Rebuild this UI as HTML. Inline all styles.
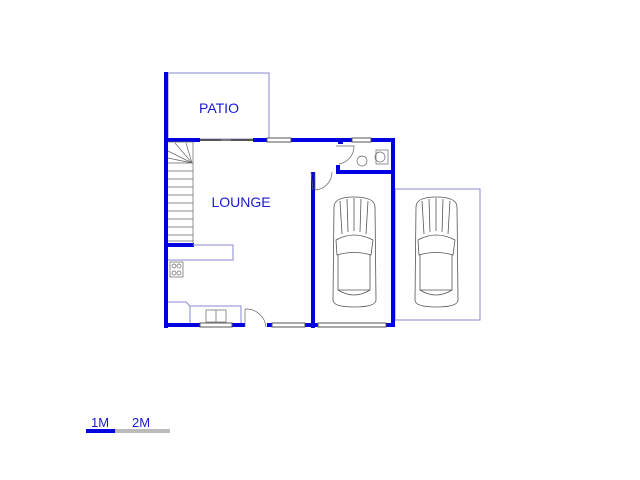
<!DOCTYPE html>
<html><head><style>body{margin:0;background:#fff}svg{display:block}</style></head><body>
<svg width="640" height="480" viewBox="0 0 640 480" xmlns="http://www.w3.org/2000/svg" font-family="Liberation Sans, sans-serif">
<!-- patio -->
<rect x="168" y="73" width="101" height="66" fill="none" stroke="#8a8ad0" stroke-width="1"/>
<text x="219" y="113" font-size="14" fill="#1a1ad0" text-anchor="middle">PATIO</text>
<text x="241" y="207" font-size="14" fill="#1a1ad0" text-anchor="middle">LOUNGE</text>
<!-- carport -->
<rect x="395" y="189" width="85" height="131" fill="none" stroke="#8a8ad0"/>
<!-- walls -->
<g fill="#0000e0">
<rect x="164" y="72" width="4" height="256"/>
<rect x="164" y="138" width="36" height="4"/>
<rect x="253" y="138" width="14" height="4"/>
<rect x="291" y="138" width="61" height="4"/>
<rect x="371" y="138" width="24" height="4"/>
<rect x="391" y="138" width="4" height="188"/>
<rect x="336" y="170" width="58" height="4"/>
<rect x="336" y="165" width="4" height="8"/>
<rect x="311" y="172" width="4" height="156"/>
<rect x="164" y="323" width="36" height="4"/>
<rect x="232" y="323" width="13" height="4"/>
<rect x="267" y="323" width="5" height="4"/>
<rect x="305" y="323" width="13" height="4"/>
<rect x="386" y="323" width="9" height="4"/>
<rect x="168" y="243" width="26" height="4"/>
<rect x="338" y="141" width="5" height="3"/>
</g>
<!-- windows/doors -->
<g fill="#fff" stroke="#555" stroke-width="1">
<rect x="267" y="138" width="24" height="4"/>
<rect x="352" y="138" width="19" height="4"/>
<rect x="200" y="323" width="32" height="4"/>
<rect x="272" y="323" width="33" height="4"/>
<rect x="318" y="323" width="68" height="4"/>
</g>
<line x1="200" y1="140" x2="253" y2="140" stroke="#555" stroke-width="2"/>
<rect x="221" y="139" width="10" height="2" fill="#777"/>
<g fill="none" stroke="#666" stroke-width="0.7">
<path d="M336 146 H354 A18 18 0 0 1 339 164"/>
<path d="M315 172 V190 A18 18 0 0 0 332 172"/>
<path d="M245 309 V327 M245 309 A20 20 0 0 1 266 327"/>
<line x1="311" y1="172" x2="313" y2="190"/>
<!-- stairs -->
<path d="M168 142 H193 V245"/>
<path d="M168 163 H193 M168 171 H193 M168 179 H193 M168 187 H193 M168 195 H193 M168 203 H193 M168 211 H193 M168 219 H193 M168 227 H193 M168 235 H193 M168 241 H193"/>
<path d="M168 151 L192 163 M175 143 L192 163 M186 143 L192 163 M168 158 L192 163"/>
</g>
<g fill="none" stroke="#8a8ad0" stroke-width="1">
<path d="M193 245 H233 V260 H168"/>
<path d="M168 302 H186 L190 306 H241 V323 M190 306 V323"/>
</g>
<g fill="none" stroke="#666" stroke-width="0.7">
<rect x="170" y="262" width="13" height="15"/>
<circle cx="174" cy="266" r="2"/><circle cx="179" cy="266" r="2"/><circle cx="174" cy="273" r="2"/><circle cx="179" cy="273" r="2"/>
<rect x="206" y="310" width="20" height="12"/>
<line x1="216" y1="310" x2="216" y2="322"/>
<circle cx="362" cy="161" r="5"/>
<rect x="376" y="150" width="12" height="14"/>
<ellipse cx="380" cy="157" rx="5" ry="5"/>
</g>
<!-- cars -->
<g fill="none" stroke="#555" stroke-width="0.8">
<g id="car">
<path d="M334 207 Q334 197 354 197 Q375 197 375 207 L376 300 Q376 307 354 307 Q333 307 333 300 Z"/>
<path d="M336 240 Q354 230 373 240 L371 255 Q354 250 337 255 Z"/>
<path d="M338 255 V290 H370 V255"/>
<path d="M338 290 Q354 300 370 290"/>
<path d="M340 201 L342 234 M347 199 L348 232 M354 198 V231 M361 199 L360 232 M368 201 L366 234"/>
</g>
<use href="#car" x="82" y="0"/>
</g>
<!-- scale -->
<rect x="86" y="429" width="29" height="4" fill="#0000e0"/>
<rect x="115" y="429" width="55" height="4" fill="#bbb"/>
<text x="91" y="427" font-size="13" fill="#1a1ad0">1M</text>
<text x="132" y="427" font-size="13" fill="#1a1ad0">2M</text>
</svg>
</body></html>
